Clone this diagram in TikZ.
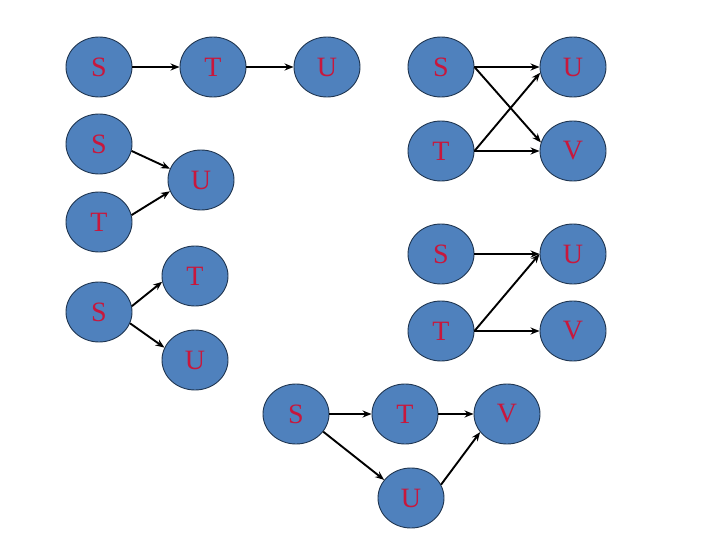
\documentclass[tikz,border=0pt]{standalone}
\usepackage{fontspec}
\setmainfont{Liberation Serif}
\usetikzlibrary{shapes.geometric,arrows.meta}
\definecolor{nodefill}{HTML}{4F81BD}
\definecolor{nodeline}{HTML}{1F3550}
\definecolor{nodetext}{HTML}{C8173C}
\tikzset{
  vnode/.style={ellipse,draw=nodeline,line width=0.9pt,fill=nodefill,minimum width=66pt,minimum height=60pt,inner sep=0pt,text=nodetext,font=\fontsize{28}{28}\selectfont},
  edge/.style={draw=black,line width=1.9pt,-{Stealth[length=9pt,width=7pt]}}
}
\begin{document}
\begin{tikzpicture}[x=1pt,y=-1pt]
\useasboundingbox (0,0) rectangle (720,540);
% group 1
\node[vnode] (s1) at (99,67) {S};
\node[vnode] (t1) at (213,67) {T};
\node[vnode] (u1) at (327,67) {U};
\draw[edge] (s1) -- (t1);
\draw[edge] (t1) -- (u1);
% group 2
\node[vnode] (s2) at (99,144) {S};
\node[vnode] (u2) at (201,180) {U};
\node[vnode] (t2) at (99,222) {T};
\draw[edge] (s2.-12) -- (u2.160);
\draw[edge] (t2.12) -- (u2.200);
% group 3
\node[vnode] (s3) at (99,312) {S};
\node[vnode] (t3) at (195,276) {T};
\node[vnode] (u3) at (195,360) {U};
\draw[edge] (s3.10) -- (t3.190);
\draw[edge] (s3.-20) -- (u3.158);
% right top
\node[vnode] (s4) at (441,67) {S};
\node[vnode] (u4) at (573,67) {U};
\node[vnode] (t4) at (441,151) {T};
\node[vnode] (v4) at (573,151) {V};
\draw[edge] (s4.east) -- (u4.west);
\draw[edge] (s4.east) -- (v4.165);
\draw[edge] (t4.east) -- (u4.190);
\draw[edge] (t4.east) -- (v4.west);
% right bottom
\node[vnode] (s5) at (441,254) {S};
\node[vnode] (u5) at (573,254) {U};
\node[vnode] (t5) at (441,331) {T};
\node[vnode] (v5) at (573,331) {V};
\draw[edge] (s5.east) -- (u5.west);
\draw[edge] (t5.east) -- (u5.west);
\draw[edge] (t5.east) -- (v5.west);
% bottom
\node[vnode] (s6) at (296,414) {S};
\node[vnode] (t6) at (405,414) {T};
\node[vnode] (v6) at (507,414) {V};
\node[vnode] (u6) at (411,498) {U};
\draw[edge] (s6) -- (t6);
\draw[edge] (t6) -- (v6);
\draw[edge] (s6.-33) -- (u6.146);
\draw[edge] (u6.24) -- (v6.214);
\end{tikzpicture}
\end{document}
